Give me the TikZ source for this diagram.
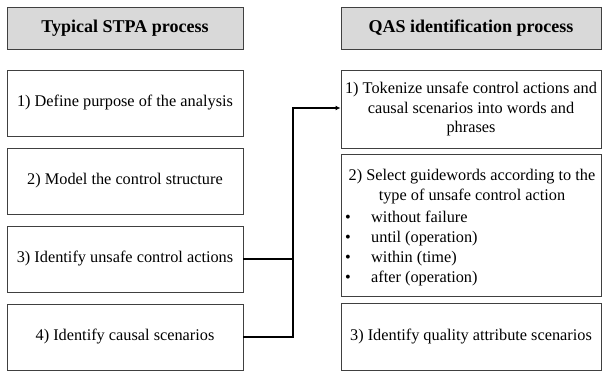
\documentclass[tikz,border=0pt]{standalone}
\usepackage{fontspec}
\setmainfont{Liberation Serif}
\usetikzlibrary{arrows.meta, positioning}
\definecolor{CHead}{HTML}{D9D9D9}
\definecolor{CEdge}{HTML}{404040}

\begin{document}
\begin{tikzpicture}[
    x=1pt, y=-1pt,
    % Reusable styles for boxes and texts
    step box/.style={draw=CEdge, line width=1pt, fill=white, inner sep=0pt,
        align=center, font=\fontsize{16.3}{19.5}\selectfont},
    left box/.style={step box, minimum width=236pt, minimum height=66pt},
    right box/.style={step box, minimum width=260pt},
    head box/.style={fill=CHead, minimum height=42pt, font=\fontsize{18}{20}\selectfont\bfseries},
    list text/.style={inner sep=0pt, anchor=base west, font=\fontsize{16.3}{20}\selectfont},
    link/.style={line width=1.8pt, line cap=rect}
]
    \useasboundingbox (0,0) rectangle (602,372);

    % -------------------------
    % Left: typical STPA process
    % -------------------------
    \node[left box, head box] (stpa) at (125,28) {Typical STPA process};
    \node[left box] (s1) at (125,103) {1) Define purpose of the analysis};
    \node[left box] (s2) at (125,181) {2) Model the control structure};
    \node[left box] (s3) at (125,259) {3) Identify unsafe control actions};
    \node[left box] (s4) at (125,337) {4) Identify causal scenarios};

    % -------------------------
    % Right: QAS identification process
    % -------------------------
    \node[right box, head box] (qas) at (471,28) {QAS identification process};
    \node[right box, minimum height=78pt] (q1) at (471,109)
        {1) Tokenize unsafe control actions and\\causal scenarios into words and\\phrases};
    \node[right box, minimum height=142pt] (q2) at (471,225) {};
    \node[right box, minimum height=67pt] (q3) at (471,336.5) {3) Identify quality attribute scenarios};

    % Guideword list inside the second box
    \node[list text, anchor=center, align=center] (q2title) at (472,187)
        {2) Select guidewords according to the\\type of unsafe control action};
    \foreach \y/\word/\name in {222/without failure/w1, 242/until (operation)/w2,
                                262/within (time)/w3, 282/after (operation)/w4} {
        \node[list text] (b\name) at (345,\y) {•};
        \node[list text] (\name) at (371,\y) {\word};
    }

    % Connector from steps 3 and 4 into step 1 of QAS
    \coordinate (joint) at (293,108);
    \draw[link] (s3.east) -- (s3.east -| joint);
    \draw[link, -{Latex[length=5pt, width=5pt]}] (s4.east) -| (joint) -- (joint -| q1.west);

\end{tikzpicture}
\end{document}
